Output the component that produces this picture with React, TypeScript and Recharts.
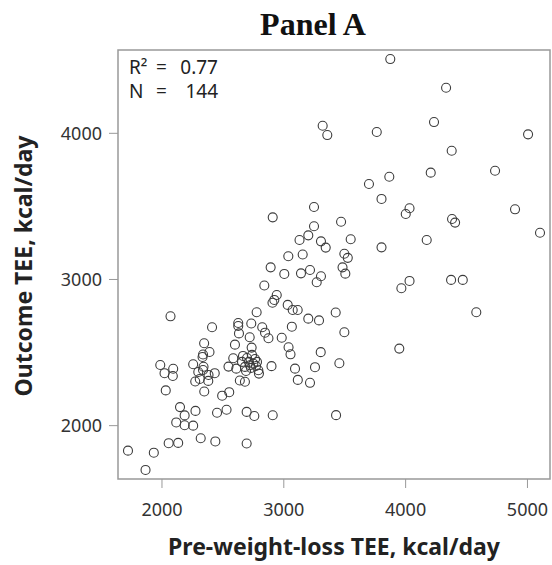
import React from 'react';
import { ScatterChart, Scatter, XAxis, YAxis, ReferenceArea } from 'recharts';

// Pre-weight-loss TEE (x) and outcome TEE (y), kcal/day
const preWeightLossTEE = [
  3874, 4332, 4233, 3319, 3357, 3763, 5005, 4378, 4734, 3866, 3699, 4206, 3802, 4032, 4001, 4898,
  3470, 3248, 4381, 4406, 5103, 4173, 3549, 3802, 3305, 3344, 3497, 3525, 2909, 3248, 3201, 3129,
  3037, 3155, 3482, 3505, 3305, 3270, 3215, 3141, 3004, 2892, 4032, 3965, 4373, 4469, 2840, 2942,
  2922, 2907, 3032, 3073, 3114, 2777, 3426, 4580, 3201, 3289, 2070, 2626, 2626, 2733, 2823, 2846,
  2874, 2983, 3066, 2411, 2632, 2720, 3497, 2346, 2599, 2736, 3039, 3055, 3303, 3948, 3456, 2390,
  2337, 2333, 1986, 2092, 2021, 2089, 2256, 2341, 2298, 2433, 2382, 2310, 2273, 2380, 2347, 2031,
  2546, 2610, 2585, 2665, 2698, 2739, 2764, 2714, 2681, 2722, 2750, 2791, 2796, 2772, 2690, 2780,
  2657, 2731, 2337, 2899, 3092, 3256, 3115, 3215, 2639, 2681, 2494, 2552, 2148, 2186, 2275, 2117,
  2186, 2256, 2452, 2530, 2695, 2758, 2909, 3429, 2318, 2438, 2055, 2133, 2695, 1721, 1933, 1865,
];
const outcomeTEE = [
  4508, 4312, 4077, 4052, 3988, 4009, 3993, 3881, 3744, 3703, 3653, 3731, 3551, 3487, 3448, 3480,
  3395, 3496, 3414, 3389, 3320, 3270, 3275, 3220, 3261, 3218, 3176, 3148, 3425, 3364, 3302, 3270,
  3159, 3171, 3083, 3040, 3022, 2981, 3065, 3042, 3038, 3083, 2990, 2940, 2997, 2997, 2959, 2894,
  2860, 2841, 2826, 2791, 2791, 2776, 2774, 2776, 2732, 2720, 2748, 2702, 2682, 2699, 2673, 2636,
  2598, 2601, 2677, 2673, 2631, 2605, 2639, 2564, 2554, 2534, 2536, 2488, 2503, 2527, 2427, 2504,
  2487, 2470, 2415, 2389, 2359, 2340, 2420, 2403, 2367, 2359, 2347, 2319, 2302, 2306, 2234, 2241,
  2404, 2390, 2461, 2477, 2463, 2484, 2456, 2436, 2402, 2413, 2424, 2379, 2356, 2408, 2374, 2436,
  2436, 2395, 2381, 2407, 2390, 2400, 2313, 2293, 2309, 2300, 2205, 2229, 2127, 2070, 2101, 2022,
  2003, 2000, 2088, 2109, 2094, 2066, 2071, 2072, 1914, 1892, 1880, 1882, 1878, 1829, 1815, 1697,
];
const xTicks = [2000, 3000, 4000, 5000];
const yTicks = [2000, 3000, 4000];
const rSquared = '0.77';
const sampleN = '144';

const points = preWeightLossTEE.map((x, i) => ({ x, y: outcomeTEE[i] }));

const X_DOMAIN: [number, number] = [1639, 5185];
const Y_DOMAIN: [number, number] = [1635, 4570];
const sans = '"Noto Sans", "Open Sans", sans-serif';

const OpenCircle = (props: any) => (
  <circle cx={props.cx} cy={props.cy} r={4.5} fill="none" stroke="#3c3c3c" strokeWidth={1.1} />
);

export default function App() {
  return (
    <div style={{ position: 'absolute', left: 0, top: 0, width: 552, height: 565, background: '#fff' }}>
      <ScatterChart width={552} height={565} margin={{ top: 50, right: 2, bottom: 0, left: 0 }}>
        <XAxis
          type="number" dataKey="x" domain={X_DOMAIN} ticks={xTicks} allowDataOverflow
          height={86} axisLine={false} tickSize={9} tickMargin={15}
          tickLine={{ stroke: '#999' }} tick={{ fill: '#333', fontSize: 18, fontFamily: sans }}
        />
        <YAxis
          type="number" dataKey="y" domain={Y_DOMAIN} ticks={yTicks} allowDataOverflow
          width={118} axisLine={false} tickSize={9} tickMargin={7}
          tickLine={{ stroke: '#999' }} tick={{ fill: '#333', fontSize: 18, fontFamily: sans }}
        />
        <ReferenceArea
          x1={X_DOMAIN[0]} x2={X_DOMAIN[1]} y1={Y_DOMAIN[0]} y2={Y_DOMAIN[1]}
          fill="none" stroke="#999" strokeWidth={1.5}
        />
        <Scatter data={points} shape={OpenCircle} isAnimationActive={false} />
      </ScatterChart>
      <svg width={552} height={565} style={{ position: 'absolute', left: 0, top: 0, pointerEvents: 'none' }}>
        <text x={313} y={35} textAnchor="middle" fontFamily='"Liberation Serif", "Times New Roman", serif' fontWeight="bold" fontSize={32} fill="#111">
          Panel A
        </text>
        <g fontFamily={sans} fontSize={19} fill="#222">
          <text x={129} y={74}>R²</text>
          <text x={156} y={74}>=</text>
          <text x={218} y={74} textAnchor="end">{rSquared}</text>
          <text x={129} y={98}>N</text>
          <text x={156} y={98}>=</text>
          <text x={218} y={98} textAnchor="end">{sampleN}</text>
        </g>
        <text x={334} y={555} textAnchor="middle" fontFamily={sans} fontWeight="bold" fontSize={23} fill="#222">
          Pre-weight-loss TEE, kcal/day
        </text>
        <text x={0} y={0} transform="translate(32 266) rotate(-90)" textAnchor="middle" fontFamily={sans} fontWeight="bold" fontSize={23} fill="#222">
          Outcome TEE, kcal/day
        </text>
      </svg>
    </div>
  );
}
